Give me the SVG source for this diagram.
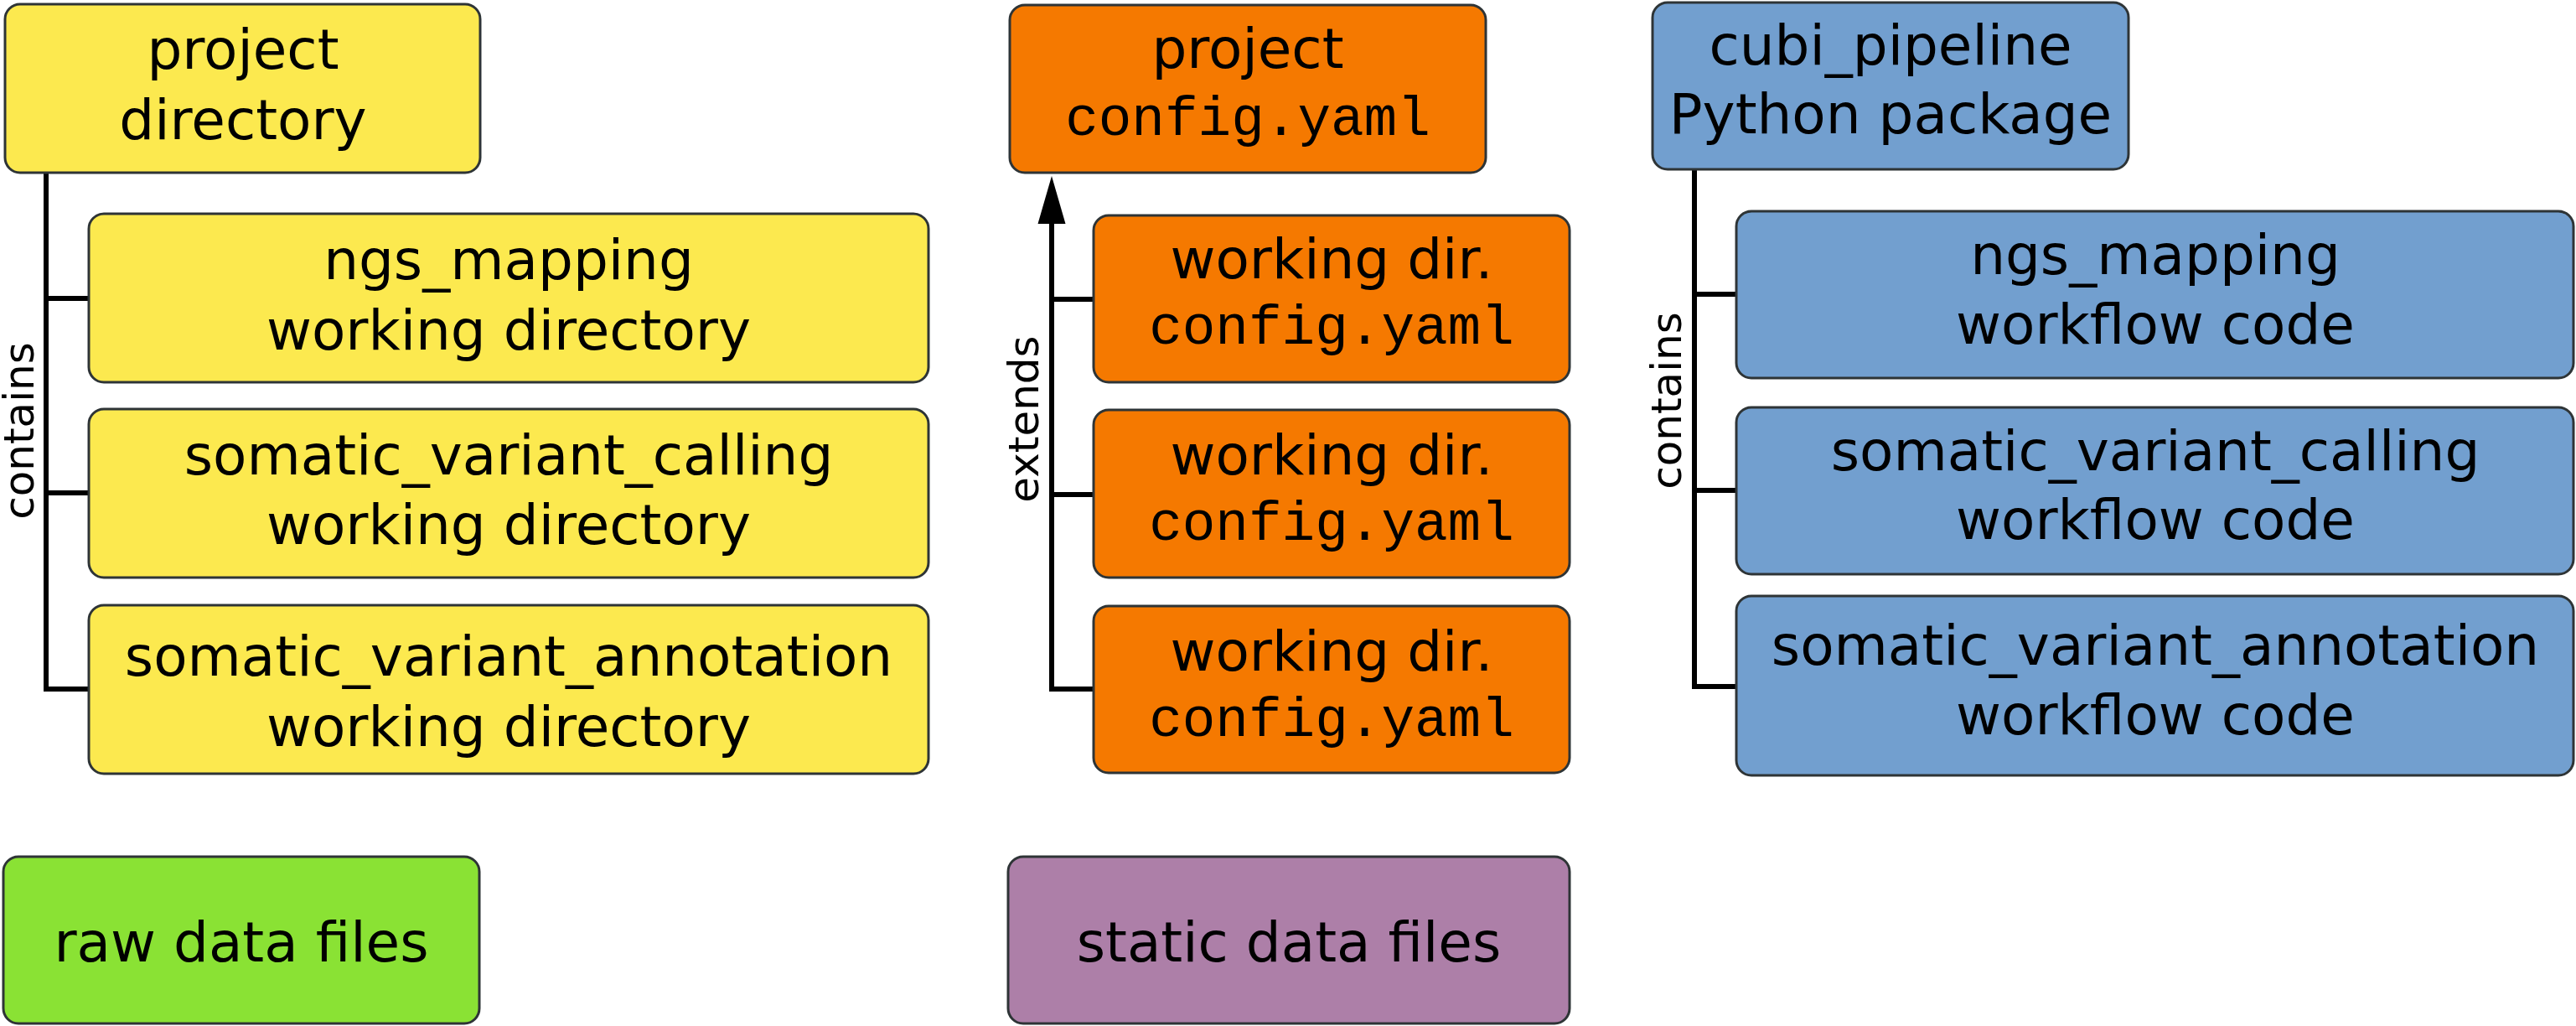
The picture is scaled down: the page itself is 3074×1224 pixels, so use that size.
<svg xmlns="http://www.w3.org/2000/svg" width="3074" height="1224" viewBox="0 0 3074 1224">
<style>
.box{stroke:#2e3436;stroke-width:3}
.y{fill:#fce94f}.o{fill:#f57900}.b{fill:#729fcf}.g{fill:#8ae234}.p{fill:#ad7fa8}
.t{font-family:"DejaVu Sans",sans-serif;font-size:66px;fill:#000;text-anchor:middle}
.m{font-family:"Liberation Mono",monospace;font-size:66px;fill:#000;text-anchor:middle}
.l{font-family:"DejaVu Sans",sans-serif;font-size:50px;fill:#000;text-anchor:middle}
.c{fill:none;stroke:#000;stroke-width:6}
</style>
<g id="connectors">
<path class="c" d="M55 206V822H106M55 356H106M55 588H106"/>
<path class="c" d="M1255 262V822H1305M1255 357H1305M1255 590H1305"/>
<polygon points="1255,210 1238.5,267 1271.5,267" fill="#000"/>
<path class="c" d="M2022 202V819H2072M2022 351H2072M2022 585H2072"/>
<text class="l" transform="translate(40,514) rotate(-90)">contains</text>
<text class="l" transform="translate(1239,500) rotate(-90)">extends</text>
<text class="l" transform="translate(2006,478) rotate(-90)">contains</text>
</g>
<g id="project-directory"><rect class="box y" x="6" y="5" width="567" height="201" rx="18"/><text class="t" x="290" y="82">project</text><text class="t" x="290" y="166">directory</text></g>
<g id="ngs-wd"><rect class="box y" x="106" y="255" width="1002" height="201" rx="18"/><text class="t" x="607" y="333">ngs_mapping</text><text class="t" x="607" y="417">working directory</text></g>
<g id="svc-wd"><rect class="box y" x="106" y="488" width="1002" height="201" rx="18"/><text class="t" x="607" y="566">somatic_variant_calling</text><text class="t" x="607" y="649">working directory</text></g>
<g id="sva-wd"><rect class="box y" x="106" y="722" width="1002" height="201" rx="18"/><text class="t" x="607" y="806">somatic_variant_annotation</text><text class="t" x="607" y="890">working directory</text></g>
<g id="project-config"><rect class="box o" x="1205" y="6" width="568" height="200" rx="18"/><text class="t" x="1489" y="81">project</text><text class="m" x="1489" y="161">config.yaml</text></g>
<g id="wd-config-1"><rect class="box o" x="1305" y="257" width="568" height="199" rx="18"/><text class="t" x="1589" y="332">working dir.</text><text class="m" x="1589" y="410">config.yaml</text></g>
<g id="wd-config-2"><rect class="box o" x="1305" y="489" width="568" height="200" rx="18"/><text class="t" x="1589" y="566">working dir.</text><text class="m" x="1589" y="644">config.yaml</text></g>
<g id="wd-config-3"><rect class="box o" x="1305" y="723" width="568" height="199" rx="18"/><text class="t" x="1589" y="800">working dir.</text><text class="m" x="1589" y="878">config.yaml</text></g>
<g id="cubi-pipeline"><rect class="box b" x="1972" y="3" width="568" height="199" rx="18"/><text class="t" x="2256" y="77">cubi_pipeline</text><text class="t" x="2256" y="159">Python package</text></g>
<g id="ngs-code"><rect class="box b" x="2072" y="252" width="999" height="199" rx="18"/><text class="t" x="2572" y="327">ngs_mapping</text><text class="t" x="2572" y="410">workflow code</text></g>
<g id="svc-code"><rect class="box b" x="2072" y="486" width="999" height="199" rx="18"/><text class="t" x="2572" y="561">somatic_variant_calling</text><text class="t" x="2572" y="643">workflow code</text></g>
<g id="sva-code"><rect class="box b" x="2072" y="711" width="999" height="214" rx="18"/><text class="t" x="2572" y="793">somatic_variant_annotation</text><text class="t" x="2572" y="876">workflow code</text></g>
<g id="raw-data"><rect class="box g" x="4" y="1022" width="568" height="199" rx="18"/><text class="t" x="288" y="1147">raw data files</text></g>
<g id="static-data"><rect class="box p" x="1203" y="1022" width="670" height="199" rx="18"/><text class="t" x="1538" y="1147">static data files</text></g>
</svg>
